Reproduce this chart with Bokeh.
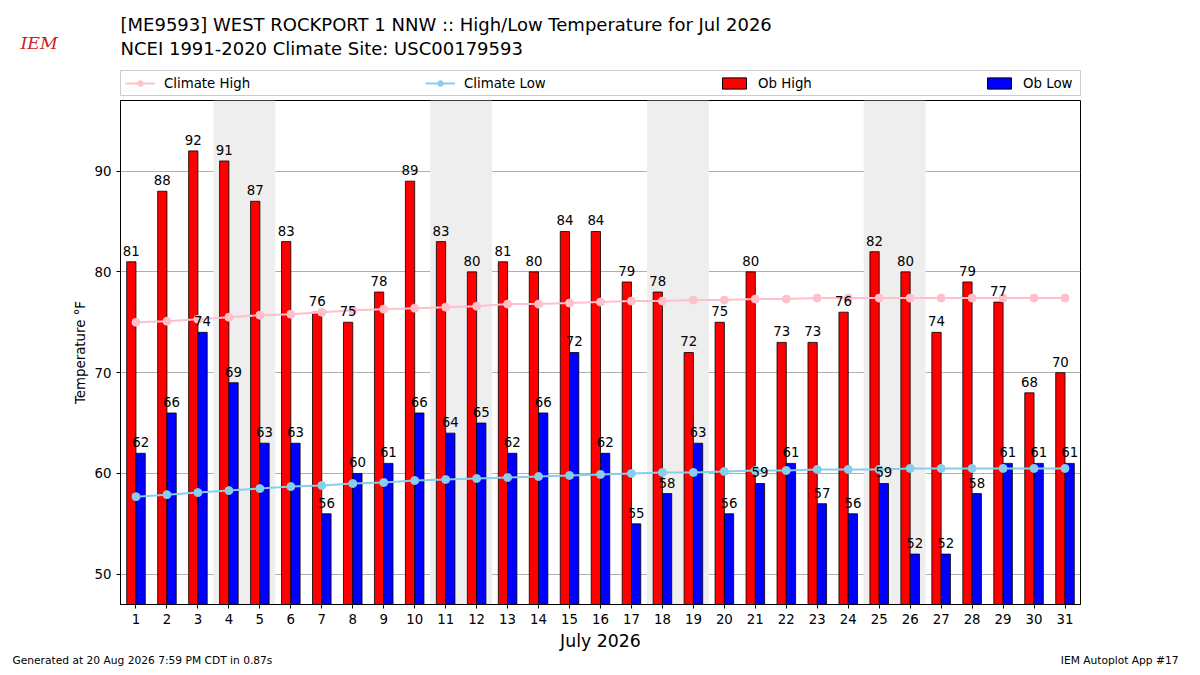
from bokeh.plotting import figure
from bokeh.layouts import column
from bokeh.models import ColumnDataSource, Legend, LegendItem, FixedTicker, Range1d, BoxAnnotation
from bokeh.embed import file_html
from bokeh.resources import INLINE
from bokeh.core.properties import value

days = list(range(1, 32))
ob_high = [81,88,92,91,87,83,76,75,78,89,83,80,81,80,84,84,79,78,72,75,80,73,73,76,82,80,74,79,77,68,70]
ob_low = [62,66,74,69,63,63,56,60,61,66,64,65,62,66,72,62,55,58,63,56,59,61,57,56,59,52,52,58,61,61,61]
clim_high = [75.0,75.1,75.3,75.5,75.7,75.8,76.0,76.2,76.3,76.4,76.5,76.6,76.8,76.8,76.9,77.0,77.1,77.1,77.2,77.2,77.3,77.3,77.4,77.4,77.4,77.4,77.4,77.4,77.4,77.4,77.4]
clim_low = [57.7,57.9,58.1,58.3,58.5,58.7,58.8,59.0,59.1,59.3,59.4,59.5,59.6,59.7,59.8,59.9,60.0,60.1,60.1,60.2,60.3,60.3,60.4,60.4,60.4,60.5,60.5,60.5,60.5,60.5,60.5]
weekends = [(4, 5), (11, 12), (18, 19), (25, 26)]
title1 = "[ME9593] WEST ROCKPORT 1 NNW :: High/Low Temperature for Jul 2026"
title2 = "NCEI 1991-2020 Climate Site: USC00179593"
foot_l = "Generated at 20 Aug 2026 7:59 PM CDT in 0.87s"
foot_r = "IEM Autoplot App #17"

FONT = "DejaVu Sans"
W = 1184

def blank(h):
    f = figure(width=W, height=h, output_backend="svg", toolbar_location=None,
               x_range=Range1d(0, W), y_range=Range1d(0, h),
               x_axis_location=None, y_axis_location=None,
               min_border_left=0, min_border_right=0, min_border_top=0, min_border_bottom=0)
    f.grid.visible = False
    f.outline_line_color = None
    f.frame_align = False
    return f

# header
hd = blank(100)
hd.text(x=[120, 120], y=[76, 52], text=[title1, title2], text_baseline="middle",
        text_font=value(FONT), text_font_size="13.5pt", text_color="black")
hd.text(x=[20], y=[58], text=["IEM"], text_baseline="middle", text_color="#cc2222",
        text_font=value("DejaVu Serif"), text_font_style="italic", text_font_size="13pt")
hd.rect(x=[600], y=[17.5], width=[960], height=[25], fill_alpha=0, line_color="#cccccc")
e = ColumnDataSource(dict(x=[-5000], y=[-5000]))
lh = hd.line("x", "y", source=e, color="pink", line_width=2)
ph = hd.scatter("x", "y", source=e, color="pink", size=8)
ll = hd.line("x", "y", source=e, color="skyblue", line_width=2)
pl = hd.scatter("x", "y", source=e, color="skyblue", size=8)
rh = hd.vbar(x="x", top="y", width=1, source=e, fill_color="red", line_color="black")
rl = hd.vbar(x="x", top="y", width=1, source=e, fill_color="blue", line_color="black")
for lbl, rends, lx in [("Climate High", [lh, ph], 125), ("Climate Low", [ll, pl], 425),
                       ("Ob High", [rh], 719), ("Ob Low", [rl], 984)]:
    lg = Legend(items=[LegendItem(label=lbl, renderers=rends)], glyph_width=30, glyph_height=14,
                label_height=18, label_standoff=9, label_text_font=FONT, label_text_font_size="10pt",
                label_text_color="black", border_line_alpha=0, background_fill_alpha=0,
                padding=0, margin=0, location=(lx, 8))
    hd.add_layout(lg, "center")

# main
p = figure(width=W, height=553, output_backend="svg", toolbar_location=None,
           x_range=Range1d(0.5, 31.5), y_range=Range1d(47, 97),
           min_border_left=120, min_border_right=104, min_border_top=0, min_border_bottom=45)
p.outline_line_color = "black"
for a, b in weekends:
    p.add_layout(BoxAnnotation(left=a - 0.5, right=b + 0.5, fill_color="#eeeeee", fill_alpha=1.0, line_alpha=0, level="underlay"))

src = ColumnDataSource(dict(x=days, hi=ob_high, lo=ob_low, ch=clim_high, cl=clim_low,
                            xh=[d - 0.15 for d in days], xl=[d + 0.15 for d in days],
                            th=[str(v) for v in ob_high], tl=[str(v) for v in ob_low],
                            yh=[v + 0.6 for v in ob_high], yl=[v + 0.6 for v in ob_low]))
p.vbar(x="xh", top="hi", bottom=0, width=0.3, source=src, fill_color="red", line_color="black", line_width=0.8)
p.vbar(x="xl", top="lo", bottom=0, width=0.3, source=src, fill_color="blue", line_color="black", line_width=0.8)
p.line("x", "ch", source=src, color="pink", line_width=2)
p.scatter("x", "ch", source=src, color="pink", size=8)
p.line("x", "cl", source=src, color="skyblue", line_width=2)
p.scatter("x", "cl", source=src, color="skyblue", size=8)
p.text("xh", "yh", text="th", source=src, text_align="center", text_baseline="bottom", text_font=value(FONT), text_font_size="10pt", text_color="black")
p.text("xl", "yl", text="tl", source=src, text_align="center", text_baseline="bottom", text_font=value(FONT), text_font_size="10pt", text_color="black")

p.xaxis.ticker = FixedTicker(ticks=days)
p.yaxis.ticker = FixedTicker(ticks=[50, 60, 70, 80, 90])
p.xgrid.grid_line_color = None
p.ygrid.grid_line_color = "#b0b0b0"
p.xaxis.axis_label = "July 2026"
p.yaxis.axis_label = "Temperature °F"
for ax in (p.xaxis, p.yaxis):
    ax.major_label_text_font = FONT
    ax.major_label_text_font_size = "10pt"
    ax.major_label_text_color = "black"
    ax.axis_label_text_font = FONT
    ax.axis_label_text_font_style = "normal"
    ax.axis_label_text_color = "black"
    ax.minor_tick_line_color = None
    ax.major_tick_out = 4
    ax.major_tick_in = 0
    ax.axis_label_standoff = 4
p.xaxis.axis_label_text_font_size = "13pt"
p.yaxis.axis_label_text_font_size = "10pt"

# footer
ft = blank(14)
ft.text(x=[12], y=[7], text=[foot_l], text_baseline="middle", text_font=value(FONT), text_font_size="8pt", text_color="black")
ft.text(x=[1178], y=[7], text=[foot_r], text_align="right", text_baseline="middle", text_font=value(FONT), text_font_size="8pt", text_color="black")

layout = column(hd, p, ft, spacing=0)
open("out.html", "w").write(file_html(layout, INLINE))
